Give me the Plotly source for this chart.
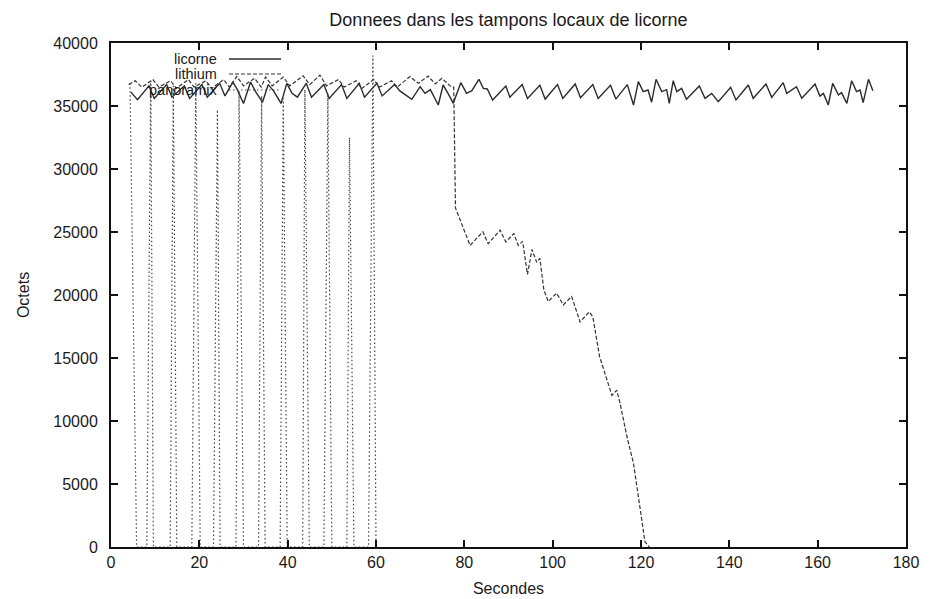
import plotly.graph_objects as go

# ---------------- data ----------------
licorne_x = [4.5, 6.0, 8.6, 9.8, 12.6, 13.8, 16.6, 17.8, 20.6, 21.8, 24.6, 25.8, 27.6, 28.6,
             30.0, 31.6, 32.8, 34.3, 35.6, 36.8, 38.5, 39.8, 41.0, 42.2, 44.2, 45.4, 48.2, 49.4,
             52.2, 53.4, 56.2, 57.4, 60.2, 61.4, 64.2, 65.4, 68.1, 70.0, 71.1, 72.3, 74.1, 75.2,
             76.3, 77.5, 79.2, 80.5, 81.7, 83.3, 84.3, 85.2, 86.4, 89.4, 90.3, 93.1, 94.3, 97.1,
             98.3, 101.1, 102.3, 105.1, 106.3, 109.1, 110.3, 113.1, 114.3, 116.9, 118.3, 119.4,
             120.5, 121.6, 122.4, 123.4, 124.7, 125.8, 126.4, 127.3, 128.1, 129.2, 130.3, 133.2,
             134.5, 136.0, 137.5, 140.3, 141.5, 144.3, 145.4, 148.3, 149.6, 152.2, 153.0, 155.2,
             156.4, 159.4, 160.5, 161.3, 162.4, 163.4, 164.7, 165.4, 166.6, 167.7, 168.8, 169.6,
             170.3, 171.5, 172.5]
licorne_y = [36100, 35500, 36600, 35600, 36700, 35700, 36600, 35600, 36700, 35700, 36800, 35800,
             36900, 36300, 35200, 36900, 36100, 35300, 36700, 36200, 35200, 36800, 36000, 35700,
             36800, 35700, 36700, 35600, 36700, 35600, 36800, 35700, 36800, 35800, 36700, 36200,
             35530, 36530, 36000, 36300, 35080, 36670, 36000, 35210, 36850, 36000, 36220, 37120,
             36400, 36350, 35480, 36590, 35690, 36700, 35600, 36650, 35550, 36700, 35600, 36750,
             35650, 36700, 35600, 36650, 35550, 36700, 35080, 36930, 36140, 36270, 35300, 37120,
             36140, 36300, 35210, 37010, 36140, 36400, 35530, 36590, 35610, 36000, 35340, 36480,
             35480, 36670, 35610, 36750, 35690, 36850, 36000, 36530, 35610, 36750, 35790, 36000,
             35080, 36800, 35870, 36060, 35210, 37010, 36140, 36270, 35270, 37120, 36220]

lithium_x = [4.0, 5.5, 7.0, 9.5, 10.8, 13.5, 14.8, 17.5, 18.8, 21.5, 22.8, 25.5, 26.8, 28.5,
             30.0, 32.5, 34.0, 35.0, 36.5, 39.0, 40.5, 43.5, 45.0, 47.3, 48.8, 51.5, 52.8, 55.5,
             56.8, 59.5, 60.8, 63.5, 64.8, 67.7, 69.6, 71.8, 73.4, 74.9, 76.8, 77.6, 78.0, 81.3,
             84.2, 85.4, 88.1, 89.4, 91.2, 92.2, 93.2, 94.3, 95.3, 96.4, 97.1, 98.0, 99.0, 100.9,
             102.4, 104.3, 106.2, 108.3, 109.1, 110.6, 113.4, 114.5, 115.2, 116.8, 118.3, 119.8,
             120.9, 121.9]
lithium_y = [36700, 37000, 36500, 37100, 36500, 37000, 36400, 37100, 36500, 37000, 36400, 37100,
             36500, 37350, 36600, 37200, 36500, 37300, 36600, 37300, 36600, 37400, 36700, 37450,
             36600, 37100, 36500, 37000, 36400, 37100, 36500, 37000, 36500, 37330, 36800, 37380,
             36750, 37200, 36590, 36500, 26900, 23940, 25020, 24070, 25150, 24210, 24880, 23940,
             24260, 21640, 23610, 22590, 22910, 20420, 19480, 20150, 19210, 19880, 17860, 18670,
             18260, 15150, 12040, 12440, 11500, 8790, 6640, 2850, 410, 0]

panoramix_x = [4.3, 5.8, 8.1, 9.0, 9.6, 13.4, 14.1, 14.9, 18.3, 19.2, 20.2, 23.2, 24.1, 24.7,
               28.3, 29.0, 30.0, 33.4, 34.1, 34.9, 38.3, 39.0, 39.9, 43.4, 43.9, 44.9, 48.2,
               49.1, 50.0, 53.4, 54.0, 55.0, 58.3, 59.3, 60.0]
panoramix_y = [36800, 0, 0, 37000, 0, 0, 36600, 0, 0, 36800, 0, 0, 34700, 0, 0, 36200, 0, 0,
               35800, 0, 0, 35600, 0, 0, 36300, 0, 0, 36000, 0, 0, 32500, 0, 0, 39000, 0]

series_names = ["licorne", "lithium", "panoramix"]
x_ticks = [0, 20, 40, 60, 80, 100, 120, 140, 160, 180]
y_ticks = [0, 5000, 10000, 15000, 20000, 25000, 30000, 35000, 40000]

# ---------------- figure ----------------
FONT = "Liberation Sans, Arial, Helvetica, sans-serif"
INK = "#1a1a1a"
styles = [dict(color="#2b2b2b", width=1.4, dash="solid"),
          dict(color="#333333", width=1.2, dash="4px,2px"),
          dict(color="#444444", width=1.2, dash="1.5px,2.5px")]

fig = go.Figure()
for name, xs, ys, st in zip(series_names,
                            [licorne_x, lithium_x, panoramix_x],
                            [licorne_y, lithium_y, panoramix_y], styles):
    fig.add_trace(go.Scatter(x=xs, y=ys, mode="lines", name=name, line=st,
                             showlegend=False))

# gnuplot-style key: right-aligned text followed by a line sample
key_rows = [0.9683, 0.9385, 0.9067]
for name, yk, st in zip(series_names, key_rows, styles):
    fig.add_annotation(xref="paper", yref="paper", x=0.1358, y=yk, text=name,
                       showarrow=False, xanchor="right", yanchor="middle",
                       font=dict(family=FONT, size=14.5, color=INK))
    fig.add_shape(type="line", xref="paper", yref="paper", x0=0.1484, x1=0.2138,
                  y0=yk, y1=yk, line=st)

axis_common = dict(showline=True, linecolor="#111111", linewidth=2, mirror="ticks",
                   ticks="inside", ticklen=7, tickwidth=1.5, tickcolor="#111111",
                   showgrid=False, zeroline=False, automargin=False,
                   tickfont=dict(family=FONT, size=16, color=INK))

# the page body adds an 8px offset, so the figure is 8px smaller than the window
fig.update_layout(
    width=921, height=591,
    margin=dict(l=103, r=23, t=35, b=52),
    paper_bgcolor="white", plot_bgcolor="white",
    title=dict(text="Donnees dans les tampons locaux de licorne", x=0.5434, xanchor="center",
               y=0.981, yanchor="middle", font=dict(family=FONT, size=18, color=INK)),
    xaxis=dict(range=[0, 180], tickvals=x_ticks, ticklabelstandoff=0,
               title=dict(text="Secondes", standoff=13, font=dict(family=FONT, size=16, color=INK)),
               **axis_common),
    yaxis=dict(range=[0, 40000], tickvals=y_ticks, tickformat="d", ticklabelstandoff=8,
               title=dict(text="Octets", standoff=20, font=dict(family=FONT, size=16, color=INK)),
               **axis_common),
)

fig.write_html("out.html")
